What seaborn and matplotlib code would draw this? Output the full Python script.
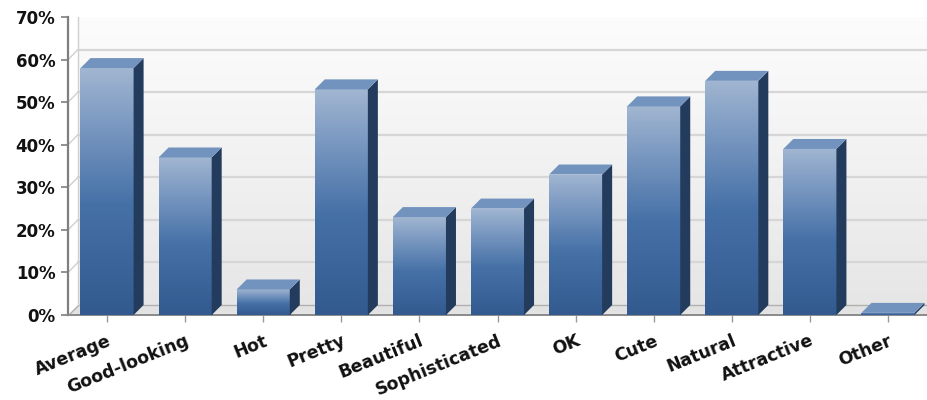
import numpy as np
import pandas as pd
import matplotlib
matplotlib.use("Agg")
import matplotlib.pyplot as plt
import matplotlib.transforms as mtransforms
import seaborn as sns
from matplotlib.patches import Polygon
from matplotlib.colors import LinearSegmentedColormap

categories = ["Average", "Good-looking", "Hot", "Pretty", "Beautiful", "Sophisticated",
              "OK", "Cute", "Natural", "Attractive", "Other"]
percentages = [58, 37, 6, 53, 23, 25, 33, 49, 55, 39, 0.5]
y_ticks = [0, 10, 20, 30, 40, 50, 60, 70]
y_tick_labels = [f"{v}%" for v in y_ticks]

sns.set_theme(style="white")
plt.rcParams['font.family'] = ['DejaVu Sans']

W, H = 927, 400
fig = plt.figure(figsize=(W / 100, H / 100), dpi=100)
fig.patch.set_facecolor("white")
L, R, B, T = 68, 927, 85, 383
ax = fig.add_axes([L / W, B / H, (R - L) / W, (T - B) / H])
ax.set_facecolor("white")

df = pd.DataFrame({"category": categories, "pct": percentages})
sns.barplot(data=df, x="category", y="pct", color="#3f6a9e", width=0.68,
            ax=ax, zorder=3, saturation=1)

XMIN, XMAX, YMIN, YMAX = -0.5, 10.5, 0, 70
ax.set_xlim(XMIN, XMAX)
ax.set_ylim(YMIN, YMAX)

# depth offset (pixels -> data)
px_x = (R - L) / (XMAX - XMIN)
px_y = (T - B) / (YMAX - YMIN)
ddx = 10 / px_x
ddy = 10 / px_y

# back wall gradient
wall = np.linspace(0, 1, 256).reshape(-1, 1)
wall_cmap = LinearSegmentedColormap.from_list("wall", ["#e6e6e6", "#f2f2f2", "#fdfdfd"])
ax.imshow(wall, extent=[XMIN + ddx, XMAX + ddx, ddy, YMAX + ddy], origin="lower",
          cmap=wall_cmap, aspect="auto", zorder=0)
# floor
floor = Polygon([(XMIN, 0), (XMAX + ddx, 0), (XMAX + ddx, ddy), (XMIN + ddx, ddy)],
                closed=True, facecolor="#e2e2e2", edgecolor="#b0b0b0", lw=1.0, zorder=1)
ax.add_patch(floor)
# gridlines on back wall
for v in y_ticks[1:]:
    ax.plot([XMIN + ddx, XMAX + ddx], [v + ddy, v + ddy], color="#d6d6d6", lw=1.6, zorder=1)
    ax.plot([XMIN, XMIN + ddx], [v, v + ddy], color="#d0d0d0", lw=1.0, zorder=1)
ax.plot([XMIN + ddx, XMIN + ddx], [ddy, YMAX + ddy], color="#d0d0d0", lw=1.0, zorder=1)

front_cmap = LinearSegmentedColormap.from_list(
    "front", [(0.0, "#325a8f"), (0.45, "#4671a7"), (0.8, "#7f9cc3"), (1.0, "#a1b6d1")])
grad = np.linspace(0, 1, 256).reshape(-1, 1)

for p in list(ax.patches):
    if p is floor:
        continue
    x0 = p.get_x()
    w = p.get_width()
    h = p.get_height()
    x1 = x0 + w
    p.set_facecolor("none")
    p.set_edgecolor("none")
    im = ax.imshow(grad, extent=[x0, x1, 0, h], origin="lower", cmap=front_cmap,
                   aspect="auto", zorder=3)
    im.set_clip_path(p)
    side = Polygon([(x1, 0), (x1 + ddx, ddy), (x1 + ddx, h + ddy), (x1, h)], closed=True,
                   facecolor="#233b5c", edgecolor="none", zorder=3)
    top = Polygon([(x0, h), (x1, h), (x1 + ddx, h + ddy), (x0 + ddx, h + ddy)], closed=True,
                  facecolor="#7393bf", edgecolor="none", zorder=3)
    ax.add_patch(side)
    ax.add_patch(top)

ax.set_xlim(XMIN, XMAX)
ax.set_ylim(YMIN, YMAX)

ax.set_yticks(y_ticks)
ax.set_yticklabels(y_tick_labels, fontsize=12, fontweight="bold", color="#111111")
ax.set_xticks(range(len(categories)))
ax.set_xticklabels(categories, rotation=22, ha="right", rotation_mode="anchor",
                   fontsize=12.5, fontweight="bold", color="#111111")
shift = mtransforms.ScaledTranslation(-6 / 100, 0, fig.dpi_scale_trans)
for lbl in ax.get_xticklabels():
    lbl.set_transform(lbl.get_transform() + shift)
ax.set_xlabel("")
ax.set_ylabel("")
ax.tick_params(axis="y", left=True, length=5, width=1.2, color="#7f7f7f", pad=4)
ax.tick_params(axis="x", bottom=True, length=5, width=1.0, color="#9a9a9a", pad=7)
for s in ["top", "right"]:
    ax.spines[s].set_visible(False)
ax.spines["left"].set_color("#7f7f7f")
ax.spines["left"].set_linewidth(1.6)
ax.spines["bottom"].set_color("#8a8a8a")
ax.spines["bottom"].set_linewidth(1.4)

fig.savefig("out.png", dpi=100)
